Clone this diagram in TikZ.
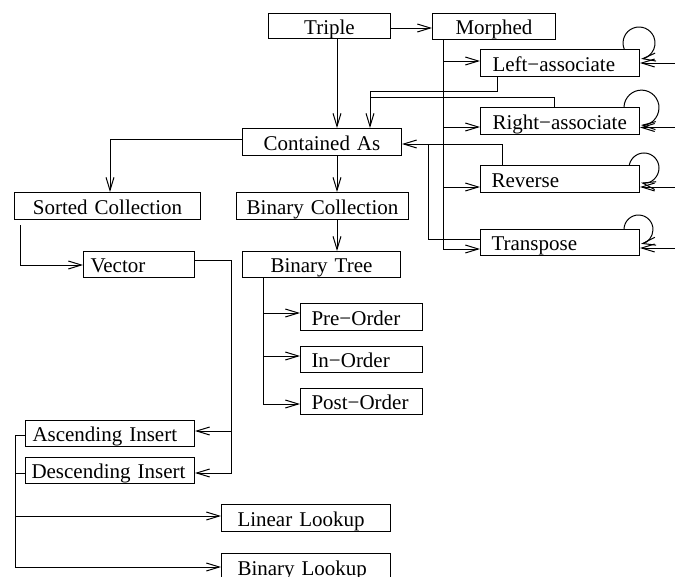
\documentclass[tikz,border=0pt]{standalone}
\usepackage{fontspec}
\setmainfont{Liberation Serif}
\usetikzlibrary{arrows.meta,calc}
\begin{document}
\begin{tikzpicture}[x=1pt,y=-1pt,
  line width=1pt,
  arr/.style={-{Straight Barb[length=13pt,width=8pt]}},
  box/.style={draw, rectangle, anchor=north west, inner ysep=0pt,
    text height=16pt, text depth=0pt, font=\fontsize{21}{24}\selectfont},
  cbox/.style 2 args={box, minimum width=#1, text width=#1, inner xsep=0pt,
    minimum height=#2, align=center},
  lbox/.style n args={3}{box, minimum width=#1, text width=#1, inner xsep=0pt,
    minimum height=#2, align=left, execute at begin node={\noindent\hspace*{#3}}},
]
\clip (0,0) rectangle (675,576);

% class boxes
\node[cbox={122pt}{25pt}] (triple) at (268,13) {Triple};
\node[cbox={123pt}{26pt}] (morphed) at (432,13) {Morphed};
\node[lbox={159pt}{27pt}{12pt}] (la) at (480,49) {Left−associate};
\node[lbox={159pt}{27pt}{12pt}] (ra) at (480,107) {Right−associate};
\node[lbox={159pt}{27pt}{11pt}] (rev) at (480,165) {Reverse};
\node[lbox={159pt}{26pt}{11pt}] (tr) at (480,229) {Transpose};
\node[cbox={159pt}{27pt}] (contained) at (242,128) {Contained As};
\node[cbox={186pt}{27pt}] (sorted) at (14,192) {Sorted Collection};
\node[cbox={172pt}{27pt}] (bincoll) at (236,192) {Binary Collection};
\node[lbox={111pt}{26pt}{7pt}] (vector) at (83,251) {Vector};
\node[cbox={158pt}{26pt}] (bintree) at (242,251) {Binary Tree};
\node[lbox={122pt}{27pt}{11pt}] (pre) at (300,303) {Pre−Order};
\node[lbox={122pt}{26pt}{11pt}] (inord) at (300,346) {In−Order};
\node[lbox={122pt}{26pt}{11pt}] (post) at (300,388) {Post−Order};
\node[lbox={169pt}{26pt}{7pt}] (asc) at (25,420) {Ascending Insert};
\node[lbox={169pt}{26pt}{6pt}] (desc) at (25,457) {Descending Insert};
\node[lbox={169pt}{27pt}{16pt}] (linlook) at (221,504) {Linear Lookup};
\node[lbox={169pt}{27pt}{16pt}] (binlook) at (221,553) {Binary Lookup};

% incoming edges from the right margin
\coordinate (ela) at (680,63);
\coordinate (era) at (680,127.5);
\coordinate (erev) at (680,187);
\coordinate (etr) at (680,248);
\draw[arr] (ela) -- (la.east |- ela);
\draw[arr] (era) -- (ra.east |- era);
\draw[arr] (erev) -- (rev.east |- erev);
\draw[arr] (etr) -- (tr.east |- etr);

% self loops
\draw[arr] ($(la.north east)+(-15.8,0)$) arc[start angle=202, end angle=-83, radius=16pt];
\draw[arr] ($(ra.north east)+(-16,0)$) arc[start angle=178, end angle=-92, radius=17.5pt];
\draw[arr] ($(rev.north east)+(-10.7,0)$) arc[start angle=168.5, end angle=-101.5, radius=15pt];
\draw[arr] ($(tr.north east)+(-16,0)$) arc[start angle=178, end angle=-80, radius=14.5pt];

% Triple
\draw[arr] (triple.east |- 0,28) -- (morphed.west |- 0,28);
\draw[arr] (triple.south -| 337,0) -- (contained.north -| 337,0);

% Morphed and its variants
\draw[arr] (morphed.south -| 443,0) |- (tr.west |- 0,249);
\draw[arr] (443,61) -- (la.west |- 0,61);
\draw[arr] (443,127) -- (ra.west |- 0,127);
\draw[arr] (443,187) -- (rev.west |- 0,187);

% variants back into Contained As
\draw[arr] (la.south -| 497,0) |- (370,91) -- (contained.north -| 370,0);
\draw (ra.north -| 554,0) |- (370,97);
\draw[arr] (rev.north -| 502,0) |- (contained.east |- 0,144);
\draw (tr.west |- 0,239) -| (428,144);

% Contained As hierarchy
\draw[arr] (contained.west |- 0,139) -| (sorted.north -| 110,0);
\draw[arr] (contained.south -| 337,0) -- (bincoll.north -| 337,0);
\draw[arr] (bincoll.south -| 337,0) -- (bintree.north -| 337,0);
\draw[arr] ($(sorted.south -| 20,0)+(0,5)$) |- (vector.west |- 0,265);

% Vector inserts
\draw[arr] (vector.east |- 0,260) -| (231,473) -- (desc.east |- 0,473);
\draw[arr] (231,431) -- (asc.east |- 0,431);

% Binary Tree traversals
\draw[arr] (bintree.south -| 263,0) |- (post.west |- 0,404);
\draw[arr] (263,313) -- (pre.west |- 0,313);
\draw[arr] (263,356) -- (inord.west |- 0,356);

% lookups
\draw[arr] (asc.west |- 0,435) -| (15,567) -- (binlook.west |- 0,567);
\draw (desc.west |- 0,473) -- (15,473);
\draw[arr] (15,516) -- (linlook.west |- 0,516);
\end{tikzpicture}
\end{document}
